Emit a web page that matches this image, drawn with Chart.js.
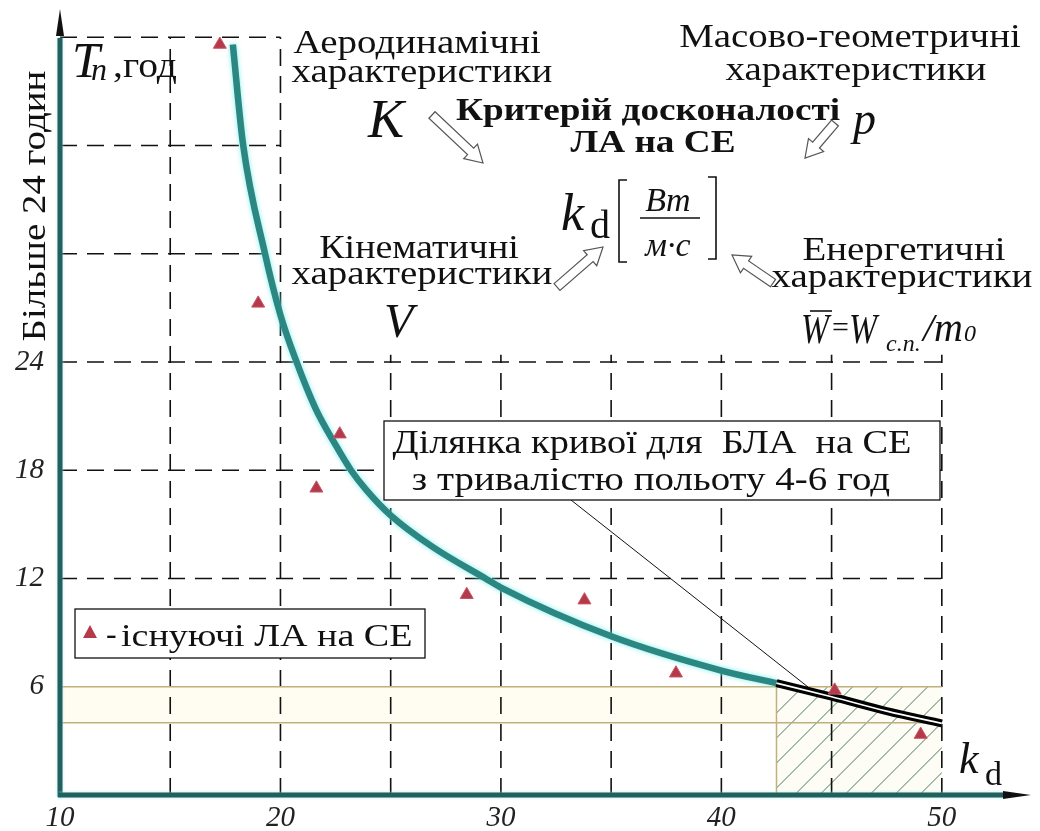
<!DOCTYPE html>
<html>
<head>
<meta charset="utf-8">
<script src="https://cdn.jsdelivr.net/npm/chart.js@4.4.1/dist/chart.umd.min.js"></script>
<style>
  html, body { margin: 0; padding: 0; background: #fff; }
  #wrap { width: 1040px; height: 831px; }
</style>
</head>
<body>
<div id="wrap"><canvas id="kdChart"></canvas></div>
<script>
// T_n (hours) against the perfection criterion k_d
let xTicks = [10, 20, 30, 40, 50];
let yTicks = [6, 12, 18, 24];

let curveK = [17.84, 18.3, 19.3, 20.0, 20.7, 21.6, 22.5, 23.2, 23.9, 25.0, 26.9, 29.3, 30.0, 35.0, 40.0, 42.5];
let curveT = [41.6, 36.1, 30.0, 26.6, 24.1, 21.4, 19.4, 18.0, 16.9, 15.5, 13.75, 12.0, 11.5, 8.8, 6.9, 6.2];

// part of the curve for 4-6 hour flights
let segK = [42.5, 45.0, 47.5, 50.0];
let segT = [6.2, 5.45, 4.65, 3.97];

// existing solar powered aircraft
let craftK = [17.25, 18.99, 22.69, 21.63, 28.45, 33.79, 37.94, 45.14, 49.04];
let craftT = [41.6, 27.25, 20.0, 17.0, 11.1, 10.8, 6.75, 5.8, 3.35];

let bandT = [4, 6];
let hatchK = [42.5, 50];

let gridTallK = [15, 20];
let gridShortK = [25, 30, 35, 40, 45, 50];
let gridTopT = [30, 36, 42];
let gridLowT = [12, 18, 24];

const SERIF = '"Liberation Serif", "DejaVu Serif", serif';
const WIDE = 1.18;

function toPoints(xs, ys) {
    return xs.map((x, i) => ({ x: x, y: ys[i] }));
}

function text(ctx, s, x, y, font, align, sx) {
    ctx.save();
    ctx.font = font;
    ctx.textAlign = align || 'left';
    ctx.textBaseline = 'alphabetic';
    ctx.translate(x, y);
    ctx.scale(sx || 1, 1);
    ctx.fillText(s, 0, 0);
    ctx.restore();
}

function hollowArrow(ctx, x1, y1, x2, y2) {
    let dx = x2 - x1, dy = y2 - y1;
    let len = Math.sqrt(dx * dx + dy * dy);
    ctx.save();
    ctx.translate(x1, y1);
    ctx.rotate(Math.atan2(dy, dx));
    ctx.beginPath();
    ctx.moveTo(0, -4.5);
    ctx.lineTo(len - 17, -4.5);
    ctx.lineTo(len - 17, -10);
    ctx.lineTo(len, 0);
    ctx.lineTo(len - 17, 10);
    ctx.lineTo(len - 17, 4.5);
    ctx.lineTo(0, 4.5);
    ctx.closePath();
    ctx.fillStyle = '#fff';
    ctx.fill();
    ctx.strokeStyle = '#555';
    ctx.lineWidth = 1.2;
    ctx.stroke();
    ctx.restore();
}

function seg(ctx, x1, y1, x2, y2) {
    ctx.beginPath();
    ctx.moveTo(x1, y1);
    ctx.lineTo(x2, y2);
    ctx.stroke();
}

const sheetPlugin = {
    id: 'sheet',
    beforeDatasetsDraw(chart) {
        let ctx = chart.ctx;
        let px = v => chart.scales.x.getPixelForValue(v);
        let py = v => chart.scales.y.getPixelForValue(v);
        ctx.save();

        // light band between 4 and 6 hours
        ctx.fillStyle = '#fffdf2';
        ctx.fillRect(px(10), py(bandT[1]), px(50) - px(10), py(bandT[0]) - py(bandT[1]));

        // hatched area under the 4-6 h part
        let hx0 = px(hatchK[0]), hx1 = px(hatchK[1]), hy0 = py(bandT[1]), hy1 = py(0);
        ctx.fillStyle = '#fdfdf5';
        ctx.fillRect(hx0, hy0, hx1 - hx0, hy1 - hy0);
        ctx.save();
        ctx.beginPath();
        ctx.rect(hx0, hy0, hx1 - hx0, hy1 - hy0);
        ctx.clip();
        ctx.strokeStyle = '#4f7767';
        ctx.lineWidth = 1;
        let h = hy1 - hy0;
        for (let s = hx0 + 18 - 25 * 6; s < hx1 + 25; s += 25) {
            seg(ctx, s, hy1, s + h, hy0);
        }
        ctx.restore();

        // dashed grid
        ctx.strokeStyle = '#111';
        ctx.lineWidth = 1.6;
        ctx.setLineDash([17, 10]);
        gridTallK.forEach(k => seg(ctx, px(k), py(0), px(k), py(42)));
        gridShortK.forEach(k => seg(ctx, px(k), py(0), px(k), py(24.4)));
        gridTopT.forEach(t => seg(ctx, px(10), py(t), px(20), py(t)));
        gridLowT.forEach(t => seg(ctx, px(10), py(t), px(50), py(t)));
        ctx.setLineDash([]);

        // thin lines of the 4-6 h band
        ctx.strokeStyle = '#c2b07c';
        ctx.lineWidth = 1.5;
        bandT.forEach(t => seg(ctx, px(10), py(t), px(50), py(t)));
        seg(ctx, hx0, py(0), hx0, py(bandT[1]));

        // leader from the note box to the curve part
        ctx.strokeStyle = '#111';
        ctx.lineWidth = 1;
        seg(ctx, 571, 500, 808, 687);
        ctx.restore();
    },
    beforeDatasetDraw(chart, args) {
        if (args.index === 4) {
            chart.ctx.save();
            chart.ctx.shadowColor = 'rgba(120, 235, 235, 0.95)';
            chart.ctx.shadowBlur = 5;
        }
    },
    afterDatasetDraw(chart, args) {
        if (args.index === 4) chart.ctx.restore();
    },
    afterDatasetsDraw(chart) {
        let ctx = chart.ctx;
        let px = v => chart.scales.x.getPixelForValue(v);
        let py = v => chart.scales.y.getPixelForValue(v);
        ctx.save();

        // axes
        ctx.strokeStyle = '#235f5c';
        ctx.lineWidth = 5;
        ctx.shadowColor = 'rgba(140, 235, 235, 0.8)';
        ctx.shadowBlur = 3;
        seg(ctx, px(10), py(0) + 2, px(10), 38);
        seg(ctx, px(10) - 2, py(0), 1004, py(0));
        ctx.shadowBlur = 0;
        ctx.fillStyle = '#111';
        ctx.beginPath();
        ctx.moveTo(px(10), 9);
        ctx.lineTo(px(10) - 4, 36);
        ctx.lineTo(px(10) + 4, 36);
        ctx.closePath();
        ctx.fill();
        ctx.beginPath();
        ctx.moveTo(1031, py(0));
        ctx.lineTo(1003, py(0) - 4);
        ctx.lineTo(1003, py(0) + 4);
        ctx.closePath();
        ctx.fill();

        // note boxes
        ctx.fillStyle = '#fff';
        ctx.strokeStyle = '#111';
        ctx.lineWidth = 1.3;
        ctx.fillRect(384, 421, 556, 79);
        ctx.strokeRect(384, 421, 556, 79);
        ctx.fillRect(75, 609, 350, 49);
        ctx.strokeRect(75, 609, 350, 49);

        ctx.fillStyle = '#111';
        text(ctx, 'Ділянка кривої для  БЛА  на СЕ', 652, 453, '33px ' + SERIF, 'center', 1.16);
        text(ctx, 'з тривалістю польоту 4-6 год', 651, 490, '33px ' + SERIF, 'center', WIDE);

        // legend marker
        ctx.fillStyle = '#b3394b';
        ctx.beginPath();
        ctx.moveTo(90, 625);
        ctx.lineTo(97, 638);
        ctx.lineTo(83, 638);
        ctx.closePath();
        ctx.fill();
        ctx.fillStyle = '#111';
        text(ctx, '-', 106, 644, '32px ' + SERIF, 'left');
        text(ctx, 'існуючі ЛА на СЕ', 121, 646, '32px ' + SERIF, 'left', 1.19);

        // axis captions
        text(ctx, 'T', 72, 77, 'italic 50px ' + SERIF, 'left');
        text(ctx, 'n', 91, 80, 'italic 32px ' + SERIF, 'left');
        text(ctx, ',год', 113, 77, '36px ' + SERIF, 'left', 1.1);
        ctx.save();
        ctx.translate(45, 206);
        ctx.rotate(-Math.PI / 2);
        text(ctx, 'Більше 24 годин', 0, 0, '33px ' + SERIF, 'center', 1.18);
        ctx.restore();
        text(ctx, 'k', 959, 773, 'italic 44px ' + SERIF, 'left');
        text(ctx, 'd', 985, 785, '34px ' + SERIF, 'left');

        // groups of characteristics
        let f = '33px ' + SERIF;
        text(ctx, 'Аеродинамічні', 417, 53, f, 'center', WIDE);
        text(ctx, 'характеристики', 422, 82, f, 'center', WIDE);
        text(ctx, 'Масово-геометричні', 850, 47, f, 'center', WIDE);
        text(ctx, 'характеристики', 856, 80, f, 'center', WIDE);
        text(ctx, 'Кінематичні', 419, 258, f, 'center', 1.15);
        text(ctx, 'характеристики', 422, 284, f, 'center', WIDE);
        text(ctx, 'Енергетичні', 904, 260, f, 'center', WIDE);
        text(ctx, 'характеристики', 902, 287, f, 'center', WIDE);

        text(ctx, 'Критерій досконалості', 648, 120, 'bold 31px ' + SERIF, 'center', 1.2);
        text(ctx, 'ЛА на СЕ', 653, 152, 'bold 31px ' + SERIF, 'center', 1.2);

        text(ctx, 'K', 368, 137, 'italic 54px ' + SERIF, 'left');
        text(ctx, 'p', 853, 134, 'italic 46px ' + SERIF, 'left');
        text(ctx, 'V', 384, 337, 'italic 48px ' + SERIF, 'left');

        // k_d [Bm / m*c]
        text(ctx, 'k', 561, 230, 'italic 52px ' + SERIF, 'left');
        text(ctx, 'd', 590, 238, '40px ' + SERIF, 'left');
        ctx.strokeStyle = '#111';
        ctx.lineWidth = 1.6;
        ctx.beginPath();
        ctx.moveTo(627, 180); ctx.lineTo(619, 180); ctx.lineTo(619, 262); ctx.lineTo(627, 262);
        ctx.moveTo(708, 177); ctx.lineTo(716, 177); ctx.lineTo(716, 259); ctx.lineTo(708, 259);
        ctx.moveTo(640, 218); ctx.lineTo(700, 218);
        ctx.stroke();
        text(ctx, 'Bm', 668, 211, 'italic 34px ' + SERIF, 'center');
        text(ctx, 'м·с', 668, 256, 'italic 34px ' + SERIF, 'center');

        // W = W_c.n./m0
        text(ctx, 'W', 801, 343, 'italic 42px ' + SERIF, 'left', 0.8);
        seg(ctx, 810, 311, 832, 311);
        text(ctx, '=', 832, 337, '30px ' + SERIF, 'left');
        text(ctx, 'W', 849, 343, 'italic 42px ' + SERIF, 'left', 0.8);
        text(ctx, 'c.n.', 886, 351, 'italic 24px ' + SERIF, 'left');
        text(ctx, '/m', 923, 341, 'italic 40px ' + SERIF, 'left');
        text(ctx, '0', 964, 341, 'italic 24px ' + SERIF, 'left');

        hollowArrow(ctx, 432, 115, 483, 163);
        hollowArrow(ctx, 835, 123, 805, 158);
        hollowArrow(ctx, 557, 287, 603, 247);
        hollowArrow(ctx, 773, 283, 732, 255);
        ctx.restore();
    }
};

let kdChart = new Chart(document.getElementById('kdChart').getContext('2d'), {
    type: 'scatter',
    data: {
        datasets: [
            {
                label: 'існуючі ЛА на СЕ',
                data: toPoints(craftK, craftT),
                pointStyle: 'triangle',
                pointRadius: 7.5,
                backgroundColor: '#b3394b',
                borderColor: '#c95565',
                borderWidth: 1
            },
            {
                label: 'marker centre',
                data: toPoints(craftK, craftT),
                pointStyle: 'triangle',
                pointRadius: 2,
                backgroundColor: '#f4d2d6',
                borderWidth: 0
            },
            {
                label: 'seg inner',
                type: 'line',
                data: toPoints(segK, segT),
                borderColor: '#fff',
                borderWidth: 1.6,
                pointRadius: 0,
                cubicInterpolationMode: 'monotone'
            },
            {
                label: 'seg',
                type: 'line',
                data: toPoints(segK, segT),
                borderColor: '#000',
                borderWidth: 8,
                pointRadius: 0,
                cubicInterpolationMode: 'monotone'
            },
            {
                label: 'T_n(k_d)',
                type: 'line',
                data: toPoints(curveK, curveT),
                borderColor: '#2b8782',
                borderWidth: 6.5,
                pointRadius: 0,
                cubicInterpolationMode: 'monotone'
            }
        ]
    },
    options: {
        responsive: true,
        maintainAspectRatio: false,
        animation: false,
        layout: { padding: { top: 12, right: 10, left: 0, bottom: 0 } },
        plugins: {
            legend: { display: false },
            tooltip: { enabled: false }
        },
        scales: {
            x: {
                type: 'linear',
                min: 10,
                max: 54,
                afterBuildTicks: s => { s.ticks = xTicks.map(v => ({ value: v })); },
                afterFit: s => { s.height = 36; s.paddingLeft = 0; s.paddingRight = 0; },
                grid: { display: false, drawTicks: false },
                border: { display: false },
                ticks: {
                    padding: 6,
                    color: '#222',
                    font: { family: SERIF, size: 29, style: 'italic' }
                }
            },
            y: {
                type: 'linear',
                min: 0,
                max: 43.4,
                afterBuildTicks: s => { s.ticks = yTicks.map(v => ({ value: v })); },
                afterFit: s => { s.width = 60; s.paddingTop = 0; s.paddingBottom = 0; },
                grid: { display: false, drawTicks: false },
                border: { display: false },
                ticks: {
                    padding: 16,
                    color: '#222',
                    font: { family: SERIF, size: 29, style: 'italic' }
                }
            }
        }
    },
    plugins: [sheetPlugin]
});
</script>
</body>
</html>
